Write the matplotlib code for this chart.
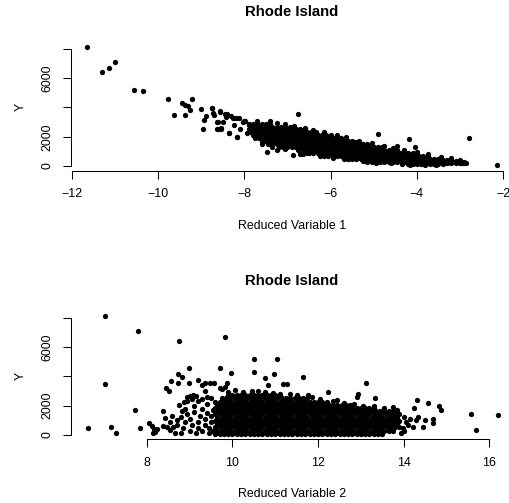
import matplotlib
matplotlib.use("Agg")
import matplotlib.pyplot as plt

plt.rcParams['font.family'] = ['Liberation Sans', 'DejaVu Sans']

# ---- panel 1 : Y vs Reduced Variable 1 ----
rv1_sparse = [-11.65, -11.30, -11.13, -11.01, -10.57, -10.35, -9.78, -9.63, -9.44, -9.37,
              -9.30, -9.21, -9.26, -9.37, -9.01, -8.96, -8.93, -8.88, -8.74, -8.72,
              -8.70, -8.64, -8.63, -8.56, -8.55, -8.50, -8.44, -8.43, -8.35, -8.31,
              -8.27, -8.25, -8.18, -8.13, -8.10, -8.04, -7.98, -7.95, -7.89, -7.82,
              -7.48, -8.76, -8.57, -8.40, -8.19, -8.01, -8.61, -8.53, -8.61, -8.35,
              -8.17, -7.25, -6.87, -6.75, -6.65, -6.71, -4.90, -4.18, -4.45, -4.04,
              -2.78, -2.13, -5.47, -5.40,
              -7.70, -7.40, -7.25, -7.05, -6.85, -6.60, -6.40, -6.15, -5.85, -5.65,
              -5.35, -5.05, -4.75, -4.55, -4.30, -4.00, -3.75, -3.45, -3.20, -3.00,
              -7.60, -7.35, -7.05, -6.55, -6.25, -5.95, -5.60, -5.25, -4.95, -4.60,
              -4.35, -4.15, -3.80, -3.55]
y1_sparse = [8116, 6450, 6724, 7111, 5197, 5150, 4604, 3466, 4330, 4193,
             4123, 4560, 3829, 3487, 3897, 2530, 3145, 3439, 3966, 3600,
             3487, 2988, 2509, 3713, 2509, 2988, 3535, 3330, 2277, 3419,
             3282, 2803, 1983, 3303, 2509, 3029, 3097, 2236, 2803, 2345,
             978, 3943, 3761, 3535, 3303, 3077, 2988, 2619, 2530, 2236,
             1962, 1094, 752, 3535, 800, 800, 2188, 1846, 1368, 1276,
             1937, 46, 1664, 1650,
             3050, 3100, 2950, 2850, 2750, 2600, 2450, 2300, 2100, 2000,
             1700, 1550, 1400, 1250, 1100, 950, 800, 620, 520, 400,
             1500, 1300, 1150, 900, 700, 560, 450, 330, 230, 180,
             120, 90, 60, 80]

# dense band, one column of Y values per x position
band1_x = [-7.90, -7.85, -7.80, -7.75, -7.70, -7.65, -7.60, -7.55, -7.50, -7.45,
           -7.40, -7.35, -7.30, -7.25, -7.20, -7.15, -7.10, -7.05, -7.00, -6.95,
           -6.90, -6.85, -6.80, -6.75, -6.70, -6.65, -6.60, -6.55, -6.50, -6.45,
           -6.40, -6.35, -6.30, -6.25, -6.20, -6.15, -6.10, -6.05, -6.00, -5.95,
           -5.90, -5.85, -5.80, -5.75, -5.70, -5.65, -5.60, -5.55, -5.50, -5.45,
           -5.40, -5.35, -5.30, -5.25, -5.20, -5.15, -5.10, -5.05, -5.00, -4.95,
           -4.90, -4.85, -4.80, -4.75, -4.70, -4.65, -4.60, -4.55, -4.50, -4.45,
           -4.40, -4.35, -4.30, -4.25, -4.20, -4.15, -4.10, -4.05, -4.00, -3.95,
           -3.90, -3.85, -3.80, -3.75, -3.70, -3.65, -3.60, -3.55, -3.50, -3.45,
           -3.40, -3.35, -3.30, -3.25, -3.20, -3.15, -3.10, -3.05, -3.00, -2.95,
           -2.90, -2.85]
band1_y = [
    [2500, 2900], [2300, 2700], [2100, 2500, 2900], [1900, 2300, 2700],
    [2100, 2500, 2900], [1900, 2300, 2700], [1700, 2100, 2500, 2900], [1900, 2300, 2700],
    [1700, 2100, 2500, 2900], [1500, 1900, 2300, 2700],
    [1700, 2100, 2500, 2900], [1500, 1900, 2300, 2700], [1700, 2100, 2500], [1500, 1900, 2300, 2700],
    [1300, 1700, 2100, 2500], [1500, 1900, 2300, 2700], [1300, 1700, 2100, 2500], [1500, 1900, 2300, 2700],
    [1300, 1700, 2100, 2500], [1500, 1900, 2300, 2700],
    [1300, 1700, 2100, 2500], [1500, 1900, 2300], [1300, 1700, 2100, 2500], [1100, 1500, 1900, 2300],
    [1300, 1700, 2100, 2500], [1100, 1500, 1900, 2300], [1300, 1700, 2100, 2500], [1100, 1500, 1900, 2300],
    [900, 1300, 1700, 2100], [1100, 1500, 1900, 2300],
    [900, 1300, 1700, 2100], [1100, 1500, 1900, 2300], [900, 1300, 1700, 2100], [1100, 1500, 1900],
    [900, 1300, 1700, 2100], [700, 1100, 1500, 1900], [900, 1300, 1700, 2100], [700, 1100, 1500, 1900],
    [900, 1300, 1700, 2100], [700, 1100, 1500, 1900],
    [900, 1300, 1700], [700, 1100, 1500, 1900], [900, 1300, 1700], [700, 1100, 1500, 1900],
    [500, 900, 1300, 1700], [700, 1100, 1500], [500, 900, 1300, 1700], [700, 1100, 1500],
    [500, 900, 1300, 1700], [700, 1100, 1500],
    [500, 900, 1300], [700, 1100, 1500], [500, 900, 1300], [700, 1100, 1500],
    [500, 900, 1300], [300, 700, 1100, 1500], [500, 900, 1300], [300, 700, 1100],
    [500, 900, 1300], [300, 700, 1100],
    [500, 900, 1300], [300, 700, 1100], [500, 900, 1300], [300, 700, 1100],
    [500, 900], [300, 700, 1100], [500, 900], [300, 700, 1100],
    [500, 900], [300, 700, 1100],
    [500, 900], [300, 700], [500, 900], [300, 700],
    [150, 500, 900], [300, 700], [150, 500, 900], [300, 700],
    [150, 500], [300, 700],
    [150, 500], [300, 700], [150, 500], [300, 650],
    [150, 500], [300], [150, 500], [300],
    [150, 460], [300],
    [160, 440], [300], [200, 400], [300],
    [180, 360], [280], [200, 320], [260],
    [200, 280], [230],
    [190, 240], [200],
]

# ---- panel 2 : Y vs Reduced Variable 2 ----
rv2_sparse = [6.62, 7.03, 7.03, 7.17, 7.29, 7.73, 7.80, 7.84, 8.04, 8.12,
              8.17, 8.19, 8.14, 8.23, 8.39, 8.43, 8.39, 8.47, 8.54, 8.62,
              8.70, 8.45, 8.51, 8.57, 8.72, 8.76, 8.83, 8.74, 8.99, 8.99,
              8.76, 8.82, 8.86, 8.93, 9.01, 9.09, 9.20, 9.28, 9.36, 9.37,
              9.48, 9.56, 9.71, 9.71, 9.76, 9.83, 9.87, 9.82, 9.96, 10.51,
              10.51, 10.76, 10.82, 10.97, 11.05, 11.19, 11.27, 11.64, 11.77, 12.24,
              12.44, 12.90, 12.94, 13.11, 13.33, 13.93, 13.99, 14.22, 14.23, 14.29,
              14.34, 14.30, 14.46, 14.50, 14.57, 14.69, 14.69, 14.82, 14.86, 15.58,
              15.69, 16.19,
              8.80, 8.85, 8.90, 8.80, 8.95, 8.90, 9.00, 9.05, 9.00, 9.10,
              9.10, 9.15, 9.20, 9.20, 9.25, 9.20, 9.30, 9.30, 9.35, 9.35,
              9.40, 9.40, 9.45, 9.45, 9.50, 9.50, 9.50, 9.55, 9.55, 9.40,
              9.30, 8.65, 8.70, 8.60, 8.55, 8.95, 9.05, 9.15,
              9.90, 10.05, 10.25, 10.45, 10.60, 10.75, 10.95, 11.10, 11.35, 11.50,
              11.85, 12.05, 12.35, 12.60, 12.85, 13.05, 13.30, 13.55, 13.75, 13.85,
              14.00, 14.05, 14.10, 14.00, 14.15]
y2_sparse = [457, 8117, 3458, 525, 157, 1705, 7094, 498, 820, 614,
             390, 225, 116, 409, 1637, 1180, 614, 525, 341, 525,
             682, 3185, 3022, 3704, 4161, 6432, 3936, 3527, 4570, 3568,
             2046, 1658, 2272, 2572, 2660, 2729, 3752, 3411, 3527, 3022,
             3527, 3527, 4550, 3185, 3117, 3297, 3527, 6705, 4209, 5184,
             4318, 3868, 3411, 4161, 5164, 3458, 3479, 3936, 2729, 2954,
             2387, 2572, 2776, 3568, 2544, 116, 457, 566, 1862, 1023,
             1248, 2387, 525, 1023, 2183, 798, 1070, 1999, 1705, 1432,
             341, 1342,
             150, 500, 900, 1200, 1400, 1800, 300, 700, 1100, 1600,
             2000, 150, 500, 900, 1300, 2300, 1800, 300, 700, 1100,
             1500, 2100, 150, 500, 900, 1300, 2500, 1700, 300, 2600,
             2450, 150, 1000, 1300, 900, 2300, 2450, 2650,
             2900, 3050, 2950, 3000, 2980, 2900, 2850, 2800, 2780, 2700,
             2600, 2480, 2300, 2150, 2100, 2000, 1950, 1850, 1900, 1700,
             1200, 900, 700, 300, 1100]

# dense core of panel 2, one column of Y values per x position
core2_x = [9.60, 9.65, 9.70, 9.75, 9.80, 9.85, 9.90, 9.95, 10.00, 10.05,
           10.10, 10.15, 10.20, 10.25, 10.30, 10.35, 10.40, 10.45, 10.50, 10.55,
           10.60, 10.65, 10.70, 10.75, 10.80, 10.85, 10.90, 10.95, 11.00, 11.05,
           11.10, 11.15, 11.20, 11.25, 11.30, 11.35, 11.40, 11.45, 11.50, 11.55,
           11.60, 11.65, 11.70, 11.75, 11.80, 11.85, 11.90, 11.95, 12.00, 12.05,
           12.10, 12.15, 12.20, 12.25, 12.30, 12.35, 12.40, 12.45, 12.50, 12.55,
           12.60, 12.65, 12.70, 12.75, 12.80, 12.85, 12.90, 12.95, 13.00, 13.05,
           13.10, 13.15, 13.20, 13.25, 13.30, 13.35, 13.40, 13.45, 13.50, 13.55,
           13.60, 13.65, 13.70, 13.75, 13.80, 13.85, 13.90]
core2_y = [
    [80, 520, 960, 1400, 1840, 2280], [300, 740, 1180, 1620, 2060],
    [80, 520, 960, 1400, 1840, 2280], [300, 740, 1180, 1620, 2060, 2500],
    [80, 520, 960, 1400, 1840, 2280], [300, 740, 1180, 1620, 2060, 2500],
    [80, 520, 960, 1400, 1840, 2280, 2720], [300, 740, 1180, 1620, 2060, 2500],
    [80, 520, 960, 1400, 1840, 2280, 2720], [300, 740, 1180, 1620, 2060, 2500],
    [80, 520, 960, 1400, 1840, 2280, 2720], [300, 740, 1180, 1620, 2060, 2500],
    [80, 520, 960, 1400, 1840, 2280, 2720], [300, 740, 1180, 1620, 2060, 2500],
    [80, 520, 960, 1400, 1840, 2280, 2720], [300, 740, 1180, 1620, 2060, 2500],
    [80, 520, 960, 1400, 1840, 2280, 2720], [300, 740, 1180, 1620, 2060, 2500],
    [80, 520, 960, 1400, 1840, 2280, 2720], [300, 740, 1180, 1620, 2060, 2500],
    [80, 520, 960, 1400, 1840, 2280, 2720], [300, 740, 1180, 1620, 2060, 2500],
    [80, 520, 960, 1400, 1840, 2280, 2720], [300, 740, 1180, 1620, 2060, 2500],
    [80, 520, 960, 1400, 1840, 2280, 2720], [300, 740, 1180, 1620, 2060, 2500],
    [80, 520, 960, 1400, 1840, 2280, 2720], [300, 740, 1180, 1620, 2060, 2500],
    [80, 520, 960, 1400, 1840, 2280, 2720], [300, 740, 1180, 1620, 2060, 2500],
    [80, 520, 960, 1400, 1840, 2280, 2720], [300, 740, 1180, 1620, 2060, 2500],
    [80, 520, 960, 1400, 1840, 2280], [300, 740, 1180, 1620, 2060, 2500],
    [80, 520, 960, 1400, 1840, 2280], [300, 740, 1180, 1620, 2060, 2500],
    [80, 520, 960, 1400, 1840, 2280], [300, 740, 1180, 1620, 2060, 2500],
    [80, 520, 960, 1400, 1840, 2280], [300, 740, 1180, 1620, 2060, 2500],
    [80, 520, 960, 1400, 1840, 2280], [300, 740, 1180, 1620, 2060, 2500],
    [80, 520, 960, 1400, 1840, 2280], [300, 740, 1180, 1620, 2060, 2500],
    [80, 520, 960, 1400, 1840, 2280], [300, 740, 1180, 1620, 2060],
    [80, 520, 960, 1400, 1840, 2280], [300, 740, 1180, 1620, 2060],
    [80, 520, 960, 1400, 1840, 2280], [300, 740, 1180, 1620, 2060],
    [80, 520, 960, 1400, 1840, 2280], [300, 740, 1180, 1620, 2060],
    [80, 520, 960, 1400, 1840, 2280], [300, 740, 1180, 1620, 2060],
    [80, 520, 960, 1400, 1840], [300, 740, 1180, 1620, 2060],
    [80, 520, 960, 1400, 1840], [300, 740, 1180, 1620, 2060],
    [80, 520, 960, 1400, 1840], [300, 740, 1180, 1620, 2060],
    [80, 520, 960, 1400, 1840], [300, 740, 1180, 1620, 2060],
    [80, 520, 960, 1400, 1840], [300, 740, 1180, 1620, 2060],
    [80, 520, 960, 1400, 1840], [300, 740, 1180, 1620],
    [80, 520, 960, 1400, 1840], [300, 740, 1180, 1620],
    [80, 520, 960, 1400, 1840], [300, 740, 1180, 1620],
    [80, 520, 960, 1400, 1840], [300, 740, 1180, 1620],
    [80, 520, 960, 1400, 1840], [300, 740, 1180, 1620],
    [80, 520, 960, 1400, 1840], [300, 740, 1180, 1620],
    [80, 520, 960, 1400], [300, 740, 1180, 1620],
    [80, 520, 960, 1400], [300, 740, 1180, 1620],
    [520, 960, 1400], [300, 740, 1180, 1620],
    [520, 960, 1400], [300, 740, 1180, 1620],
    [520, 960, 1400], [740, 1180],
    [520, 960, 1400],
]

title = "Rhode Island"
xlabels = ["Reduced Variable 1", "Reduced Variable 2"]
yticks = [0, 2000, 4000, 6000, 8000]
ytick_labels = ["0", "2000", "", "6000", ""]
xticks1 = [-12, -10, -8, -6, -4, -2]
xticks2 = [8, 10, 12, 14, 16]

W, H = 509, 503


def box(left, top, right, bottom):
    return [left / W, 1 - bottom / H, (right - left) / W, (bottom - top) / H]


def flatten(xs, cols):
    px = [x for x, col in zip(xs, cols) for _ in col]
    py = [v for col in cols for v in col]
    return px, py


fig = plt.figure(figsize=(W / 100, H / 100), dpi=100)

panels = [
    dict(rect=box(71, 42.6, 513, 170.7), xlim=(-12.02, -1.77), ylim=(-321, 8437),
         xticks=xticks1, sparse=(rv1_sparse, y1_sparse), dense=flatten(band1_x, band1_y),
         title_y=12.3, xlab_y=226, xlabel=xlabels[0]),
    dict(rect=box(71, 311.5, 513.8, 439.3), xlim=(6.23, 16.57), ylim=(-293, 8424),
         xticks=xticks2, sparse=(rv2_sparse, y2_sparse), dense=flatten(core2_x, core2_y),
         title_y=281, xlab_y=494, xlabel=xlabels[1]),
]

for p in panels:
    ax = fig.add_axes(p["rect"])
    for xs, ys in (p["sparse"], p["dense"]):
        ax.plot(xs, ys, "o", ms=3.8, color="black", mew=0)
    ax.set_xlim(*p["xlim"])
    ax.set_ylim(*p["ylim"])
    for s in ("top", "right"):
        ax.spines[s].set_visible(False)
    ax.spines["left"].set_bounds(yticks[0], yticks[-1])
    ax.spines["bottom"].set_bounds(p["xticks"][0], p["xticks"][-1])
    for s in ("left", "bottom"):
        ax.spines[s].set_linewidth(0.75)
    ax.set_xticks(p["xticks"])
    ax.set_xticklabels([str(t).replace("-", "\u2212") for t in p["xticks"]])
    ax.set_yticks(yticks)
    ax.set_yticklabels(ytick_labels, rotation=90, va="center")
    ax.tick_params(length=5.5, width=0.75, labelsize=8.9, pad=7.3)
    ax.patch.set_visible(False)

    fig.text(292 / W, 1 - p["title_y"] / H, title, ha="center", va="center",
             fontsize=10.7, fontweight="bold")
    fig.text(292 / W, 1 - p["xlab_y"] / H, p["xlabel"], ha="center", va="center",
             fontsize=8.9)
    top = (1 - p["rect"][1] - p["rect"][3]) * H
    bot = (1 - p["rect"][1]) * H
    fig.text(21 / W, 1 - (top + bot) / 2 / H, "Y", ha="center", va="center",
             rotation=90, fontsize=8.9)

fig.savefig("out.png", dpi=100)
